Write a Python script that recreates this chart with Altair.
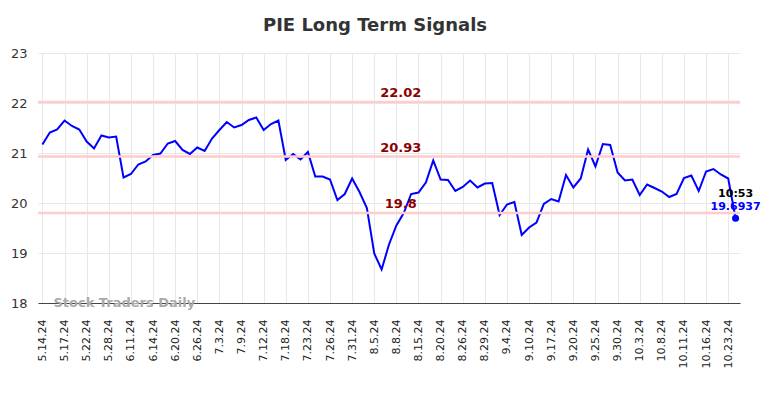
import altair as alt
import pandas as pd

dates = ["5.14.24","5.15.24","5.16.24","5.17.24","5.20.24","5.21.24","5.22.24","5.23.24","5.24.24","5.28.24",
         "5.29.24","6.10.24","6.11.24","6.12.24","6.13.24","6.14.24","6.17.24","6.18.24","6.20.24","6.21.24",
         "6.24.24","6.26.24","6.27.24","7.1.24","7.3.24","7.5.24","7.8.24","7.9.24","7.10.24","7.11.24",
         "7.12.24","7.15.24","7.16.24","7.18.24","7.19.24","7.22.24","7.23.24","7.24.24","7.25.24","7.26.24",
         "7.29.24","7.30.24","7.31.24","8.1.24","8.2.24","8.5.24","8.6.24","8.7.24","8.8.24","8.12.24",
         "8.14.24","8.15.24","8.16.24","8.19.24","8.20.24","8.21.24","8.23.24","8.26.24","8.27.24","8.28.24",
         "8.29.24","8.30.24","9.3.24","9.4.24","9.6.24","9.9.24","9.10.24","9.12.24","9.16.24","9.17.24",
         "9.18.24","9.19.24","9.20.24","9.23.24","9.24.24","9.25.24","9.26.24","9.27.24","9.30.24","10.1.24",
         "10.2.24","10.3.24","10.4.24","10.7.24","10.8.24","10.9.24","10.10.24","10.11.24","10.14.24","10.15.24",
         "10.16.24","10.17.24","10.18.24","10.23.24","10.24.24"]

prices = [21.17,21.41,21.47,21.65,21.54,21.47,21.23,21.09,21.35,21.31,
          21.33,20.51,20.58,20.77,20.83,20.96,20.99,21.19,21.24,21.06,
          20.98,21.11,21.04,21.29,21.46,21.62,21.51,21.56,21.66,21.71,
          21.46,21.58,21.65,20.86,20.98,20.87,21.02,20.53,20.53,20.47,
          20.06,20.18,20.49,20.22,19.90,18.99,18.67,19.17,19.55,19.80,
          20.18,20.21,20.41,20.85,20.47,20.46,20.24,20.32,20.45,20.31,
          20.39,20.40,19.76,19.97,20.02,19.36,19.51,19.61,19.98,20.08,
          20.03,20.56,20.31,20.49,21.07,20.73,21.18,21.16,20.61,20.45,
          20.47,20.16,20.37,20.30,20.23,20.12,20.18,20.50,20.55,20.24,
          20.63,20.68,20.57,20.49,19.6937]

levels = [22.02, 20.93, 19.8]
level_labels = ["22.02", "20.93", "19.8"]
last_time = "10:53"
last_label = "19.6937"
watermark = "Stock Traders Daily"

idx = list(range(len(prices)))
df = pd.DataFrame({"i": idx, "date": dates, "price": prices})
tick_idx = idx[::3]
label_map = {i: dates[i] for i in tick_idx}
label_expr = "{" + ",".join(f"'{k}':'{v}'" for k, v in label_map.items()) + "}[datum.value]"

xscale = alt.Scale(domain=[-0.6, len(prices) - 1 + 0.6], nice=False, zero=False)
yscale = alt.Scale(domain=[18, 23], nice=False, zero=False)

x_axis = alt.Axis(values=tick_idx, labelExpr=label_expr, labelAngle=-90, grid=True,
                  gridColor="#e8e8e8", ticks=False, domain=True, domainColor="#444",
                  labelFontSize=11, labelColor="#222", labelPadding=16, labelFontWeight="normal",
                  labelOverlap=False, labelBound=False, tickCount=len(tick_idx), title=None)
y_axis = alt.Axis(values=[18, 19, 20, 21, 22, 23], grid=True, gridColor="#e8e8e8", ticks=False,
                  domain=False, labelFontSize=13, labelColor="#333", labelPadding=11, title=None)

X = alt.X("i:Q", scale=xscale, axis=x_axis)
Y = alt.Y("price:Q", scale=yscale, axis=y_axis)

base = alt.Chart(df)

lv = pd.DataFrame({"price": levels, "label": level_labels, "i": [48.6] * 3})
level_rules = alt.Chart(lv).mark_rule(color="#ffcccc", strokeWidth=2.5).encode(y=Y)
level_text = alt.Chart(lv).mark_text(color="#8b0000", fontWeight="bold", fontSize=13,
                                     baseline="bottom", dy=-2, font="DejaVu Sans").encode(
    x=X, y=Y, text="label:N"
)

line = base.mark_line(color="#0000ff", strokeWidth=2).encode(x=X, y=Y)

last = pd.DataFrame({"i": [idx[-1]], "price": [prices[-1]], "t": [last_time], "v": [last_label]})
dot = alt.Chart(last).mark_circle(color="#0000ff", size=50, opacity=1).encode(x=X, y=Y)
t1 = alt.Chart(last).mark_text(color="#000", fontWeight="bold", fontSize=11, dy=-24,
                               font="DejaVu Sans").encode(x=X, y=Y, text="t:N")
t2 = alt.Chart(last).mark_text(color="#0000ff", fontWeight="bold", fontSize=11, dy=-11,
                               font="DejaVu Sans").encode(x=X, y=Y, text="v:N")

wm = pd.DataFrame({"i": [1.5], "price": [18.0], "t": [watermark]})
wm_text = alt.Chart(wm).mark_text(color="#aaaaaa", fontWeight="bold", fontSize=13, align="left",
                                  baseline="middle", font="DejaVu Sans").encode(x=X, y=Y, text="t:N")

chart = alt.layer(line, level_rules, level_text, dot, t1, t2, wm_text).properties(
    width=702, height=250,
    title=alt.TitleParams("PIE Long Term Signals", fontSize=18, fontWeight="bold", color="#333",
                          font="DejaVu Sans", offset=12, dx=-14),
    autosize=alt.AutoSizeParams(type="none"),
    padding={"left": 30, "top": 45, "right": 36, "bottom": 87},
).configure_view(stroke=None).configure_axis(labelFont="DejaVu Sans")

chart.save("out.html", embed_options={"renderer": "svg", "actions": False})
